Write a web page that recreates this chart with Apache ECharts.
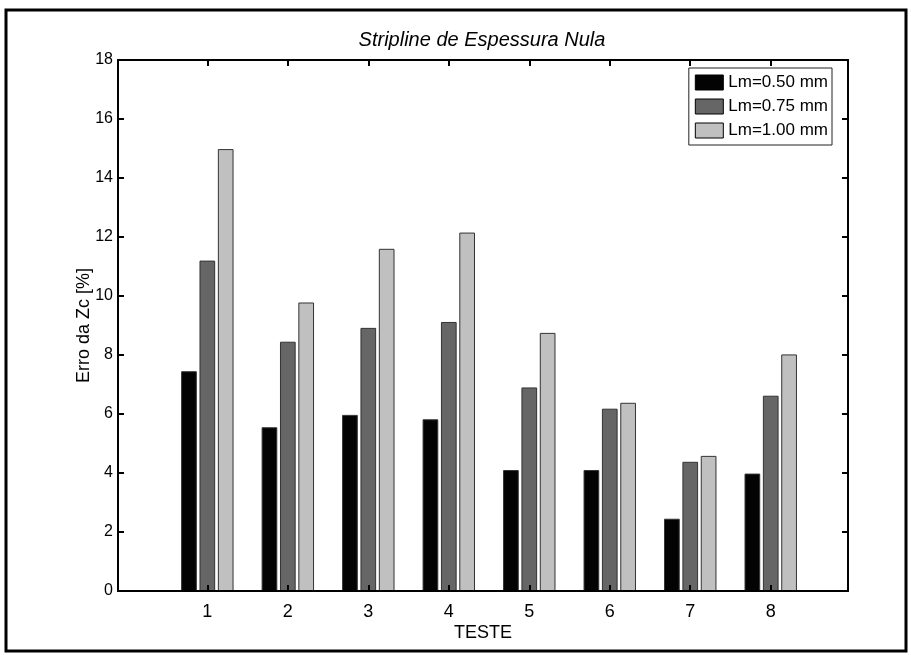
<!DOCTYPE html>
<html>
<head>
<meta charset="utf-8">
<script src="https://cdn.jsdelivr.net/npm/echarts@6/dist/echarts.min.js"></script>
<style>html,body{margin:0;padding:0;background:#fff}#c{width:911px;height:655px}</style>
</head>
<body>
<div id="c"></div>
<script>
var titleText = 'Stripline de Espessura Nula';
var xName = 'TESTE';
var yName = 'Erro da Zc [%]';
var tests = [1, 2, 3, 4, 5, 6, 7, 8];
var seriesNames = ['Lm=0.50 mm', 'Lm=0.75 mm', 'Lm=1.00 mm'];
var lm050 = [7.45, 5.55, 5.97, 5.82, 4.10, 4.10, 2.45, 3.98];
var lm075 = [11.20, 8.45, 8.92, 9.12, 6.90, 6.18, 4.38, 6.62];
var lm100 = [14.98, 9.78, 11.60, 12.15, 8.75, 6.38, 4.58, 8.02];
var colors = ['#030303', '#666666', '#c0c0c0'];

var FONT = 'Liberation Sans, Arial, sans-serif';
var chart = echarts.init(document.getElementById('c'), null, {renderer: 'canvas'});
var allVals = [lm050, lm075, lm100];

function axisCommon(showLabel) {
  return {
    axisLine: {show: true, onZero: false, lineStyle: {color: '#000', width: 2}},
    axisTick: {show: true, inside: true, length: 6, lineStyle: {color: '#000', width: 2}},
    splitLine: {show: false},
    axisLabel: {show: showLabel, color: '#000', fontFamily: FONT, fontSize: 17}
  };
}

var grid = {left: 118, right: 63, top: 60, bottom: 64, containLabel: false};
var X_MIN = -0.11, X_MAX = 8.96;

var xBottom = Object.assign(axisCommon(true), {
  type: 'value', position: 'bottom', min: X_MIN, max: X_MAX, z: 5,
  name: xName, nameLocation: 'middle', nameGap: 33, nameMoveOverlap: false,
  nameTextStyle: {color: '#000', fontFamily: FONT, fontSize: 18}
});
xBottom.axisTick.customValues = tests;
xBottom.axisLabel.customValues = tests;
xBottom.axisLabel.margin = 12;
xBottom.axisLabel.fontSize = 18;
var xTop = Object.assign(axisCommon(false), {type: 'value', position: 'top', min: X_MIN, max: X_MAX, z: 5});
xTop.axisTick.customValues = tests;

var yLeft = Object.assign(axisCommon(true), {
  type: 'value', position: 'left', min: 0, max: 18, interval: 2, z: 5,
  name: yName, nameLocation: 'middle', nameGap: 25, nameMoveOverlap: false,
  nameTextStyle: {color: '#000', fontFamily: FONT, fontSize: 18}
});
yLeft.axisLabel.margin = 5;
yLeft.axisLabel.fontSize = 16;
var yRight = Object.assign(axisCommon(false), {type: 'value', position: 'right', min: 0, max: 18, interval: 2, z: 5});

var series = seriesNames.map(function (n, i) {
  return {
    name: n, type: 'bar', xAxisIndex: 0, yAxisIndex: 0,
    barWidth: '19.5%', barGap: '17%',
    itemStyle: {color: colors[i], borderColor: '#333', borderWidth: 1},
    data: tests.map(function (t, j) { return [t, allVals[i][j]]; }),
    z: 2
  };
});

chart.setOption({
  animation: false,
  backgroundColor: '#fff',
  title: {
    text: titleText, left: 477, top: 25, textAlign: 'center',
    textStyle: {fontFamily: FONT, fontStyle: 'italic', fontWeight: 'normal', fontSize: 20, color: '#000'}
  },
  legend: {
    orient: 'vertical', right: 79, top: 68,
    data: seriesNames,
    itemWidth: 28, itemHeight: 15, itemGap: 7,
    padding: [6, 4, 6, 6],
    backgroundColor: '#fff', borderColor: '#222', borderWidth: 1,
    icon: 'rect',
    itemStyle: {borderColor: '#000', borderWidth: 1},
    textStyle: {fontFamily: FONT, fontSize: 17, color: '#000'}
  },
  grid: grid,
  xAxis: [xBottom, xTop],
  yAxis: [yLeft, yRight],
  series: series,
  graphic: [{
    type: 'rect', shape: {x: 6, y: 10, width: 900, height: 641},
    style: {fill: 'none', stroke: '#000', lineWidth: 3}, silent: true, z: 100
  }]
});
</script>
</body>
</html>
